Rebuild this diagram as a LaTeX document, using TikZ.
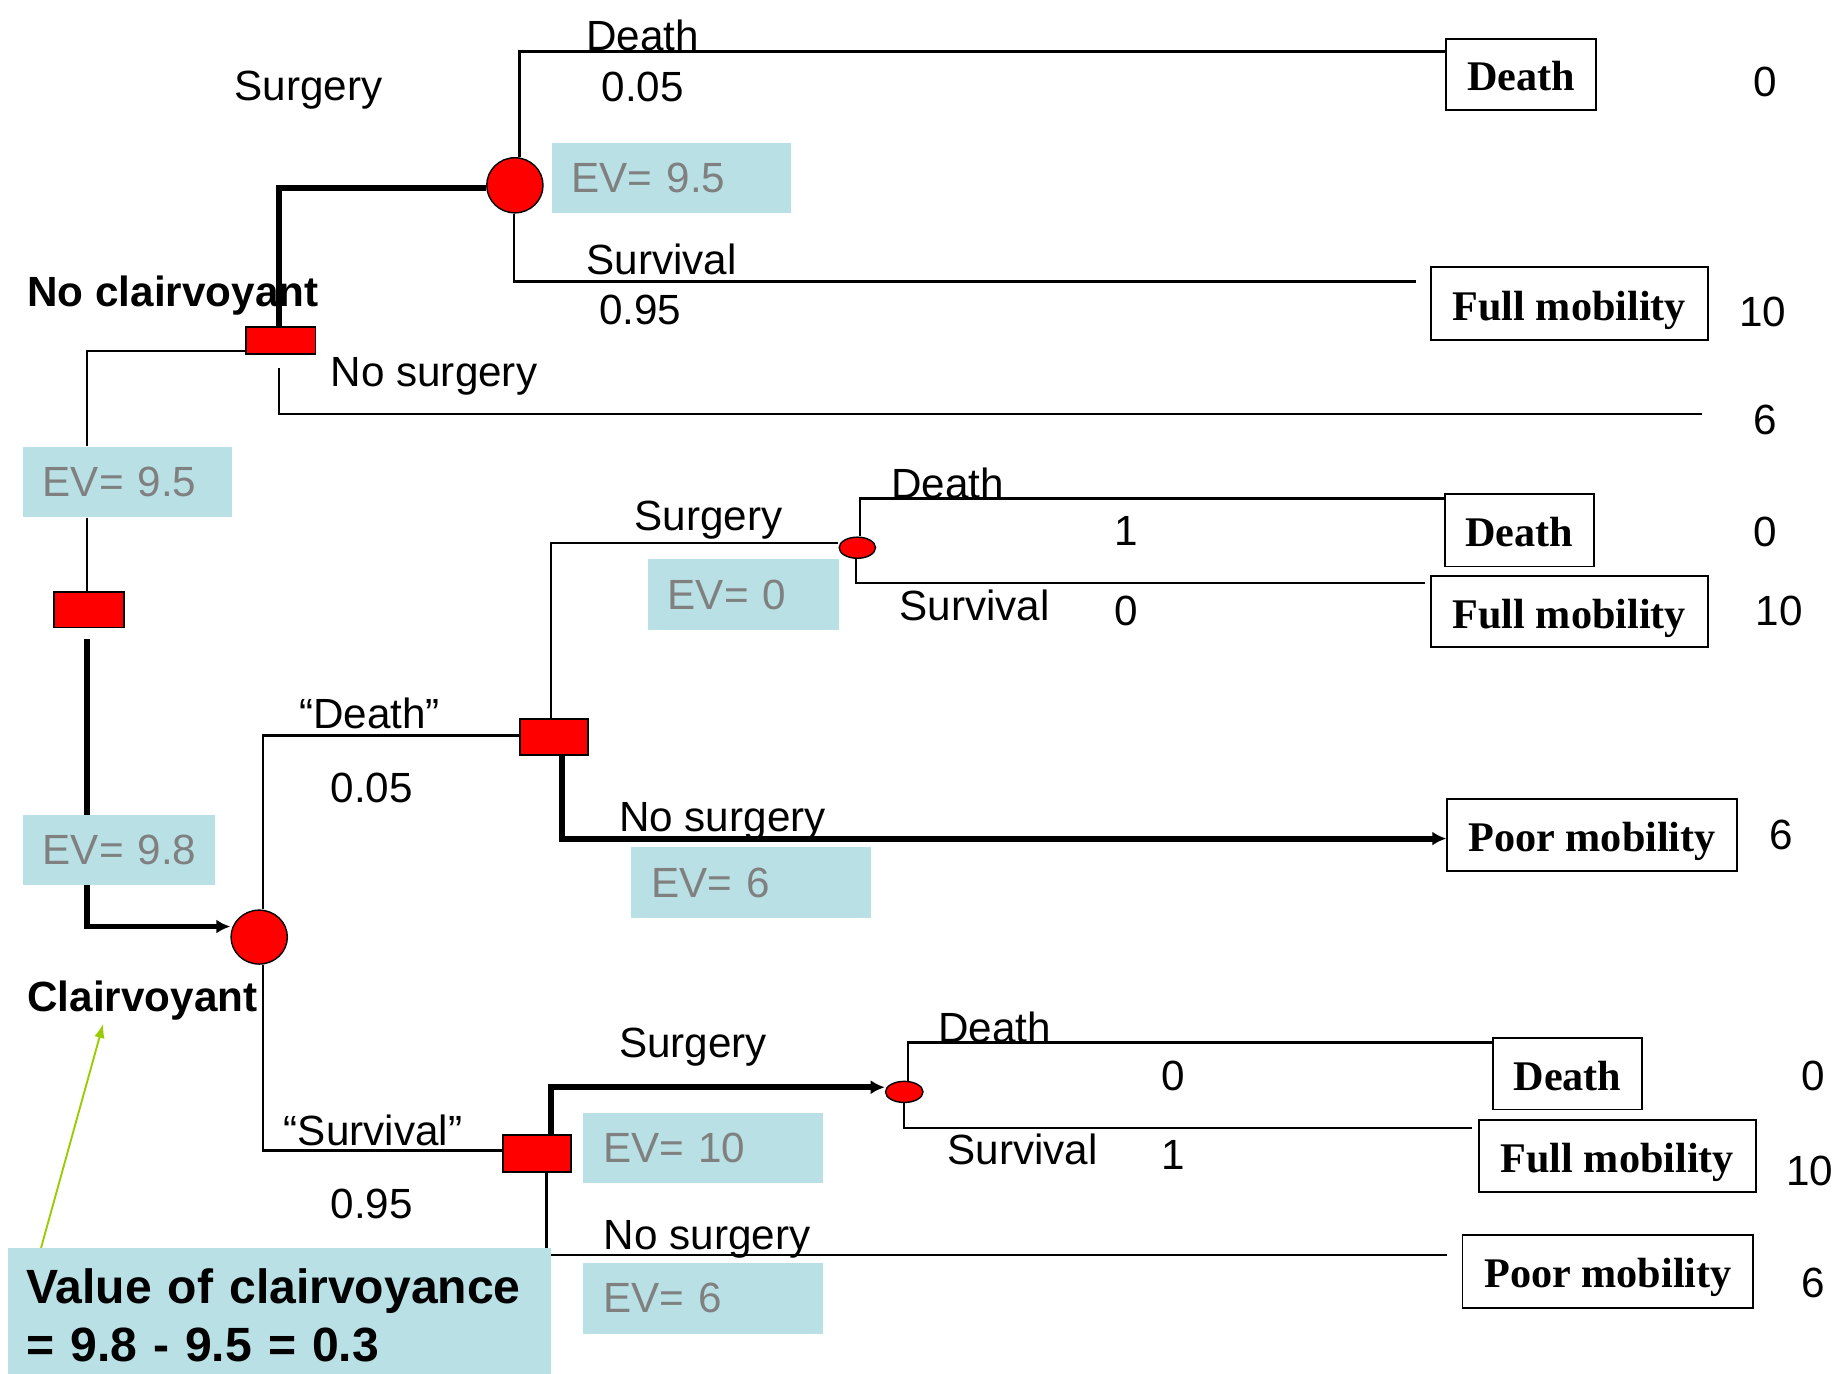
\documentclass[tikz,border=0pt]{standalone}
\usepackage{fontspec}
\setmainfont{Liberation Sans}
\newfontfamily\tnr{Liberation Serif}
\usetikzlibrary{shapes.geometric,arrows.meta,backgrounds}
\definecolor{evblue}{RGB}{185,224,228}
\definecolor{evgray}{RGB}{128,128,128}
\definecolor{arrgreen}{RGB}{153,204,0}
\begin{document}
\begin{tikzpicture}[x=0.5pt,y=-0.5pt,
  lbl/.style={font=\fontsize{18pt}{21pt}\selectfont, inner sep=0pt, text depth=0pt},
  blbl/.style={font=\bfseries\fontsize{18pt}{21pt}\selectfont, inner sep=0pt, anchor=west, text depth=0pt},
  dec/.style={draw=black, line width=0.8pt, fill=red, inner sep=0pt},
  chance/.style={ellipse, draw=black, line width=0.6pt, fill=red, inner sep=0pt},
  term/.style={draw=black, line width=0.8pt, fill=white, inner sep=0pt, text height=14pt, text depth=0pt, font=\tnr\bfseries\fontsize{18pt}{21pt}\selectfont},
  evbox/.style={fill=evblue, text=evgray, anchor=west, inner xsep=8.5pt, inner ysep=0pt, minimum height=30pt, align=left, font=\fontsize{18pt}{21pt}\selectfont},
  br/.style={line width=1pt},
  thk/.style={line width=2.5pt},
  tip/.style={-{Latex[length=6pt,width=6pt]}}
]
\useasboundingbox (0,0) rectangle (1568,1171);

% decision nodes
\node[dec, minimum width=29.5pt, minimum height=11.5pt] (d1) at (239.5,290.5) {};
\node[dec, minimum width=30pt, minimum height=15pt] (d0) at (76,520) {};
\node[dec, minimum width=29pt, minimum height=15.5pt] (d3) at (472,628.5) {};
\node[dec, minimum width=29pt, minimum height=15.5pt] (d4) at (458,983.5) {};
% chance nodes
\node[chance, minimum width=24pt, minimum height=23.5pt] (c1) at (439,158) {};
\node[chance, minimum width=24pt, minimum height=23pt] (c2) at (221,799) {};
\node[chance, minimum width=15.5pt, minimum height=9pt] (c3) at (731,467) {};
\node[chance, minimum width=16pt, minimum height=9pt] (c4) at (771,931) {};
% terminal nodes
\node[term, minimum width=64pt, minimum height=30.5pt] (t1) at (1297,63.5) {Death};
\node[term, minimum width=118pt, minimum height=31pt] (t2) at (1338,259) {Full mobility};
\node[term, minimum width=63.5pt, minimum height=31pt] (t3) at (1295.5,452) {Death};
\node[term, minimum width=118pt, minimum height=30.5pt] (t4) at (1338,521.5) {Full mobility};
\node[term, minimum width=123.5pt, minimum height=31pt] (t5) at (1357.5,712) {Poor mobility};
\node[term, minimum width=63.5pt, minimum height=30.5pt] (t6) at (1336.5,915.5) {Death};
\node[term, minimum width=118pt, minimum height=30.5pt] (t7) at (1379,985.5) {Full mobility};
\node[term, minimum width=124pt, minimum height=31pt] (t8) at (1371,1084) {Poor mobility};
% EV boxes
\node[evbox, text width=85pt] (e1) at (470,152) {EV= 9.5};
\node[evbox, text width=72pt] (e2) at (19,411) {EV= 9.5};
\node[evbox, text width=65pt] (e3) at (19,725) {\mbox{EV= 9.8}};
\node[evbox, text width=64.5pt] (e4) at (552,507) {EV= 0};
\node[evbox, text width=85pt] (e5) at (538,752.5) {EV= 6};
\node[evbox, text width=85pt] (e6) at (497,979) {EV= 10};
\node[evbox, text width=85pt] (e7) at (497,1107) {EV= 6};
% value box
\node[fill=evblue, anchor=west, minimum height=57.5pt, inner xsep=8pt, inner ysep=0pt,
      text width=215.5pt, align=left, font=\bfseries\fontsize{20.5pt}{24.5pt}\selectfont]
      (vb) at (6,1121.5) {Value of clairvoyance\\= 9.8 - 9.5 = 0.3};

% labels
\node[lbl] (l1) at (263,73) {Surgery};
\node[lbl] (l2) at (548,30) {Death};
\node[lbl] (l3) at (548,74) {0.05};
\node[lbl] (l4) at (564,221) {Survival};
\node[lbl] (l5) at (546,264) {0.95};
\node[lbl] (l6) at (370,317) {No surgery};
\node[lbl] (v1) at (1505,70) {0};
\node[lbl] (v2) at (1503,266) {10};
\node[lbl] (v3) at (1505,358) {6};
\node[blbl] (nc) at (23,248) {No clairvoyant};
\node[blbl] (cl) at (23,849) {Clairvoyant};
\node[lbl] (l7) at (604,440) {Surgery};
\node[lbl] (l8) at (808,412) {Death};
\node[lbl] (p1) at (960,453) {1};
\node[lbl] (l9) at (831,516) {Survival};
\node[lbl] (p2) at (960,521) {0};
\node[lbl] (v4) at (1505,453) {0};
\node[lbl] (v5) at (1517,521) {10};
\node[lbl] (l10) at (315,608) {“Death”};
\node[lbl] (l11) at (317,672) {0.05};
\node[lbl] (l12) at (616,697) {No surgery};
\node[lbl] (v6) at (1519,712) {6};
\node[lbl] (l13) at (591,889) {Surgery};
\node[lbl] (l14) at (848,876) {Death};
\node[lbl] (p3) at (1000,917) {0};
\node[lbl] (v7) at (1546,917) {0};
\node[lbl] (l15) at (872,980) {Survival};
\node[lbl] (p4) at (1000,985) {1};
\node[lbl] (v8) at (1543,998) {10};
\node[lbl] (l16) at (318,964) {“Survival”};
\node[lbl] (l17) at (317,1026) {0.95};
\node[lbl] (l18) at (603,1053) {No surgery};
\node[lbl] (v9) at (1546,1094) {6};

% coordinates
\coordinate (a1) at (443,44);
\coordinate (a2) at (438,240);
\coordinate (a2e) at (1207,240);
\coordinate (a3s) at (238,314);
\coordinate (a3) at (238,353);
\coordinate (a3e) at (1451,353);
\coordinate (a4) at (74,299);
\coordinate (a6s) at (74,545);
\coordinate (a6) at (74,790);
\coordinate (a7) at (238,160);
\coordinate (a8) at (224,627);
\coordinate (a9) at (470,463);
\coordinate (a10) at (733,425);
\coordinate (a11) at (730,497);
\coordinate (a11e) at (1215,497);
\coordinate (a12) at (479,715);
\coordinate (a13) at (224,981);
\coordinate (a14) at (470,927);
\coordinate (a15) at (774,889);
\coordinate (a16) at (771,962);
\coordinate (a16e) at (1255,962);
\coordinate (a17) at (466,1070);
\coordinate (a17e) at (1234,1070);
\coordinate (g1) at (35,1064);
\coordinate (g2) at (88,873);

\begin{scope}[on background layer]
\draw[br] (c1.north -| a1) -- (a1) -- (a1 -| t1.west);
\draw[br] (c1.south -| a2) -- (a2) -- (a2e);
\draw[br] (a3s) -- (a3) -- (a3e);
\draw[br] (a4 -| d1.west) -- (a4) -- (a4 |- e2.north);
\draw[br] (a4 |- e2.south) -- (a4 |- d0.north);
\draw[thk, tip] (a6s) -- (a6) -- (a6 -| c2.west);
\draw[thk] (a7 |- d1.north) -- (a7) -- (a7 -| c1.west);
\draw[br] (c2.north -| a8) -- (a8) -- (a8 -| d3.west);
\draw[br] (a9 |- d3.north) -- (a9) -- (a9 -| c3.west);
\draw[br] (c3.north -| a10) -- (a10) -- (a10 -| t3.west);
\draw[br] (c3.south -| a11) -- (a11) -- (a11e);
\draw[thk, tip] (a12 |- d3.south) -- (a12) -- (a12 -| t5.west);
\draw[br] (c2.south -| a13) -- (a13) -- (a13 -| d4.west);
\draw[thk, tip] (a14 |- d4.north) -- (a14) -- (a14 -| c4.west);
\draw[br] (c4.north -| a15) -- (a15) -- (a15 -| t6.west);
\draw[br] (c4.south -| a16) -- (a16) -- (a16e);
\draw[br] (a17 |- d4.south) -- (a17) -- (a17e);
\end{scope}
\draw[arrgreen, line width=0.8pt, -{Latex[length=6pt,width=4.5pt]}] (g1) -- (g2);
\end{tikzpicture}
\end{document}
